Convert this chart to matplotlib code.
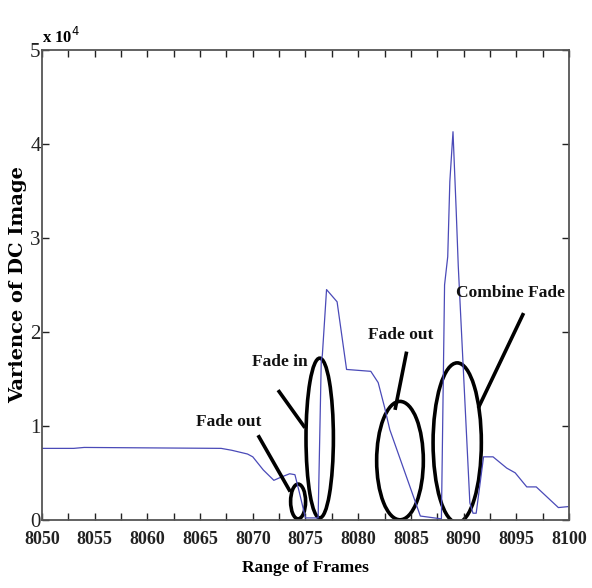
import matplotlib
matplotlib.use("Agg")
import matplotlib.pyplot as plt
from matplotlib.patches import Ellipse

# variance curve (values in units of 1e4)
frames = [8050, 8053, 8054, 8067, 8068, 8069.5, 8070, 8071, 8072, 8072.6,
          8073.5, 8074, 8074.4, 8075, 8076.2, 8076.5, 8076.6, 8077, 8078,
          8078.9, 8081.2, 8081.9, 8082.5, 8083, 8085.9, 8087.9, 8088.2,
          8088.5, 8088.7, 8089, 8089.3, 8089.5, 8090.6, 8090.9, 8091.2,
          8091.9, 8092.8, 8094.1, 8094.9, 8096, 8096.9, 8099, 8099.9]
variance = [0.76, 0.76, 0.77, 0.76, 0.74, 0.70, 0.67, 0.53, 0.42, 0.45,
            0.49, 0.48, 0.30, 0.02, 0.02, 1.70, 1.75, 2.45, 2.32,
            1.60, 1.58, 1.46, 1.20, 0.96, 0.04, 0.01, 2.50,
            2.80, 3.60, 4.13, 3.30, 2.70, 0.18, 0.07, 0.07,
            0.67, 0.67, 0.55, 0.50, 0.35, 0.35, 0.13, 0.14]

xticks = [8050, 8055, 8060, 8065, 8070, 8075, 8080, 8085, 8090, 8095, 8100]
yticks = [0, 1, 2, 3, 4, 5]

# annotations: label, text pos, line start, line end, ellipse centre, width, height
ann_labels = ["Fade out", "Fade in", "Fade out", "Combine Fade"]
ann_text = [(8067.7, 1.04), (8072.6, 1.68), (8084.0, 1.97), (8094.5, 2.41)]
ann_line_a = [(8070.5, 0.90), (8072.4, 1.38), (8084.6, 1.79), (8095.7, 2.20)]
ann_line_b = [(8073.55, 0.30), (8074.95, 0.98), (8083.5, 1.17), (8091.4, 1.19)]
ell_centre = [(8074.3, 0.195), (8076.35, 0.87), (8083.97, 0.63), (8089.4, 0.82)]
ell_w = [1.42, 2.6, 4.43, 4.58]
ell_h = [0.37, 1.70, 1.26, 1.70]

times = dict(family="Liberation Serif", weight="bold")

fig = plt.figure(figsize=(5.92, 5.88), dpi=100)
ax = fig.add_axes([0.071, 0.116, 0.890, 0.799])

ax.plot(frames, variance, color="#4a4ab8", lw=0.9)

for i in range(len(ann_labels)):
    e = Ellipse(ell_centre[i], ell_w[i], ell_h[i], fill=False,
                edgecolor="black", lw=2.6)
    ax.add_patch(e)
    ax.plot([ann_line_a[i][0], ann_line_b[i][0]],
            [ann_line_a[i][1], ann_line_b[i][1]], color="black", lw=2.6,
            solid_capstyle="butt")
    ax.text(ann_text[i][0], ann_text[i][1], ann_labels[i], ha="center",
            va="center", fontsize=12.5, color="#111", **times)

ax.set_xlim(8050, 8100)
ax.set_ylim(0, 5)
ax.set_xticks(xticks)
ax.set_xticks([x + 2.5 for x in xticks[:-1]], minor=True)
ax.set_yticks(yticks)
ax.set_xticklabels([str(x) for x in xticks], fontsize=13, **times)
ax.set_yticklabels([str(y) for y in yticks], fontsize=15,
                   family="Liberation Serif")
ax.tick_params(which="both", direction="in", top=True, right=True,
               length=5, width=1, colors="#222")
ax.tick_params(axis="x", pad=8)
ax.tick_params(axis="y", pad=1)

for s in ax.spines.values():
    s.set_color("#555")
    s.set_linewidth(1.3)

ax.text(0.0, 1.006, r"x 10$^4$", transform=ax.transAxes, ha="left",
        va="bottom", fontsize=12, **times)
ax.set_xlabel("Range of Frames", fontsize=12.5, labelpad=9, **times)
ax.set_ylabel("Varience of DC Image", fontsize=14, labelpad=2,
              family="DejaVu Serif", weight="bold")

fig.savefig("out.png", dpi=100)
